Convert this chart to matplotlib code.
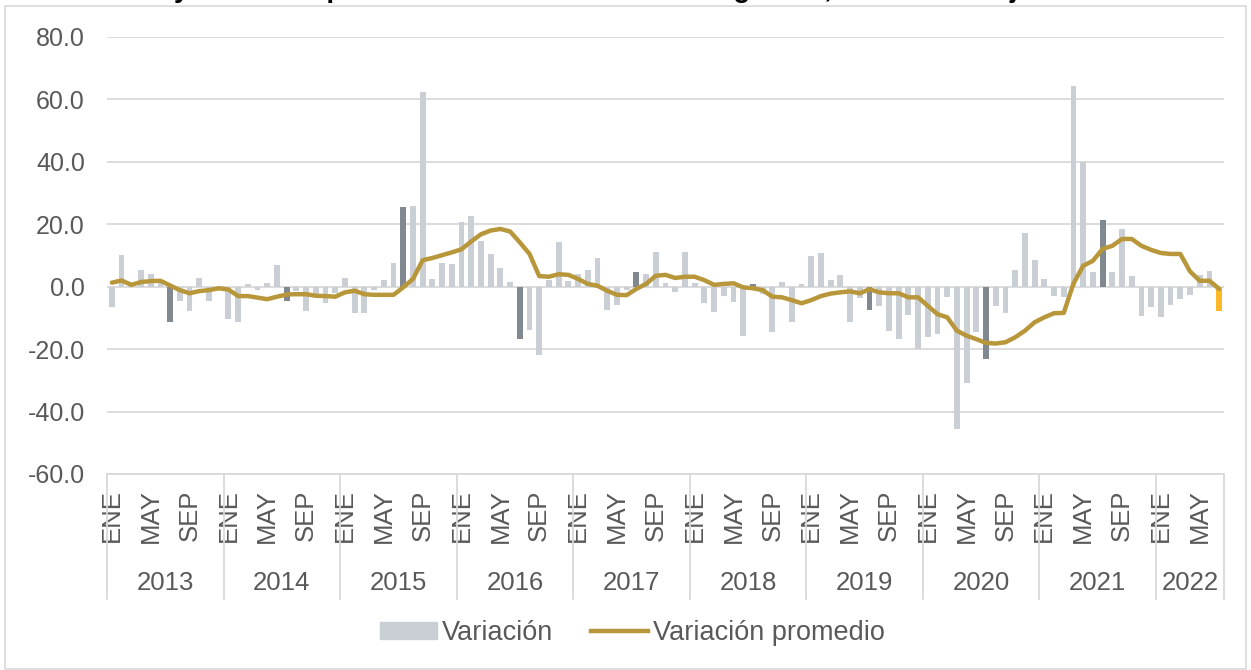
import matplotlib.pyplot as plt
import matplotlib.ticker as ticker
import matplotlib.transforms as transforms
from matplotlib.patches import Patch, Rectangle
from matplotlib.lines import Line2D

plt.rcParams['font.family'] = ['Liberation Sans', 'DejaVu Sans']

years = ['2013', '2014', '2015', '2016', '2017', '2018', '2019', '2020', '2021', '2022']
months = ['ENE', 'FEB', 'MAR', 'ABR', 'MAY', 'JUN', 'JUL', 'AGO', 'SEP', 'OCT', 'NOV', 'DIC']

# monthly variation (%), Jan 2013 - Jul 2022
variacion = [
    -6.5, 10.3, 1.0, 5.2, 4.1, 1.5, -11.2, -4.5, -7.7, 2.8, -4.5, -0.5,
    -10.5, -11.2, 1.0, -1.1, 1.2, 7.0, -4.6, -1.5, -7.7, -2.5, -5.1, -2.0,
    2.9, -8.5, -8.5, -1.0, 2.0, 7.7, 25.6, 26.0, 62.5, 2.6, 7.7, 7.4,
    20.8, 22.6, 14.5, 10.6, 6.0, 1.4, -16.6, -13.9, -21.9, 2.2, 14.4, 1.9,
    4.1, 5.2, 9.2, -7.5, -5.9, -1.0, 4.8, 4.2, 11.2, 1.2, -1.8, 11.1,
    1.1, -5.3, -8.0, -3.0, -4.8, -15.7, 0.9, -2.4, -14.4, 1.5, -11.2, 0.9,
    9.7, 10.8, 2.1, 3.7, -11.4, -3.6, -7.3, -6.3, -14.1, -16.6, -9.0, -20.0,
    -16.2, -15.2, -3.4, -45.6, -30.7, -14.6, -23.0, -6.3, -8.5, 5.3, 17.1, 8.7,
    2.4, -2.9, -3.2, 64.4, 40.0, 4.6, 21.5, 4.6, 18.5, 3.5, -9.3, -6.6,
    -9.8, -5.8, -4.0, -2.7, 3.8, 5.1, -7.9,
]

variacion_promedio = [
    1.3, 2.0, 0.6, 1.5, 1.8, 1.9, 0.4, -1.1, -2.1, -1.4, -1.1, -0.5,
    -0.9, -3.0, -3.0, -3.5, -4.0, -3.2, -2.5, -2.4, -2.4, -2.9, -3.0, -3.2,
    -1.8, -1.3, -2.4, -2.6, -2.6, -2.6, -0.2, 2.5, 8.5, 9.2, 10.1, 11.0,
    12.0, 14.5, 16.8, 18.0, 18.5, 17.7, 14.2, 10.5, 3.4, 3.2, 4.0, 3.8,
    2.5, 0.9, 0.3, -1.3, -2.6, -2.7, -0.7, 0.9, 3.5, 3.8, 2.8, 3.2,
    3.2, 2.1, 0.6, 0.9, 1.1, -0.2, -0.5, -1.1, -3.2, -3.4, -4.3, -5.3,
    -4.3, -3.0, -2.2, -1.8, -1.5, -2.1, -0.8, -1.8, -2.1, -2.1, -3.4, -3.4,
    -6.1, -8.8, -9.8, -14.1, -15.7, -16.8, -18.0, -18.2, -17.8, -16.2, -14.1, -11.4,
    -9.8, -8.5, -8.4, 1.0, 6.7, 8.3, 12.1, 13.1, 15.3, 15.3, 13.1, 11.8,
    10.8, 10.5, 10.5, 4.9, 1.9, 1.9, -0.7,
]

n = len(variacion)
x = list(range(n))

# july bars darker, last month highlighted
colores = []
for i in x:
    if i == n - 1:
        colores.append('#FDB827')
    elif i % 12 == 6:
        colores.append('#7F898F')
    else:
        colores.append('#C9CFD5')

gris = '#595959'
grid = '#D9D9D9'

fig = plt.figure(figsize=(12.51, 6.70), dpi=100)
ax = fig.add_axes([107 / 1251, 1 - 474 / 670, (1224 - 107) / 1251, (474 - 37) / 670])

ax.bar(x, variacion, width=0.6, color=colores, zorder=2)
ax.plot(x, variacion_promedio, color='#B8963A', lw=3.2, solid_capstyle='round', zorder=3)

ax.set_xlim(-0.5, n - 0.5)
ax.set_ylim(-60, 80)
ax.yaxis.set_major_locator(ticker.MultipleLocator(20))
ax.yaxis.set_major_formatter(ticker.FuncFormatter(lambda v, p: f'{v:.1f}'))
ax.grid(axis='y', color=grid, lw=1.3, zorder=0)
ax.set_axisbelow(True)

for s in ['left', 'right', 'top']:
    ax.spines[s].set_visible(False)
ax.spines['bottom'].set_color(grid)
ax.spines['bottom'].set_linewidth(1.3)

# month labels: ENE, MAY, SEP
pos = [i for i in x if i % 4 == 0]
ax.set_xticks(pos)
ax.set_xticklabels([months[i % 12] for i in pos], rotation=90, fontsize=18.5, color=gris)
ax.tick_params(axis='x', length=0, pad=11)
ax.tick_params(axis='y', length=0, pad=16, labelsize=18, labelcolor=gris)

# year level of the axis
trans = transforms.blended_transform_factory(ax.transData, ax.transAxes)
bounds = [12 * k - 0.5 for k in range(len(years))] + [n - 0.5]
for b in bounds:
    ax.plot([b, b], [0, -0.285], color=grid, lw=1.3, transform=trans, clip_on=False)
for k, yr in enumerate(years):
    a = bounds[k]
    b = bounds[k + 1]
    ax.text((a + b) / 2, -0.25, yr, transform=trans, ha='center', va='center',
            fontsize=18.5, color=gris)

# title cut off at top of picture
fig.text(-0.011, 1.004, 'Variación real y variación promedio móvil anual de los ingresos, enero 2013 - julio 2022',
         fontsize=20, fontweight='bold', ha='left', va='baseline', color='black')

handles = [Patch(color='#C9CFD5'), Line2D([0], [0], color='#B8963A', lw=3.2)]
fig.legend(handles, ['Variación', 'Variación promedio'], loc='center',
           bbox_to_anchor=(0.5056, 1 - 633 / 670), ncol=2, frameon=False,
           fontsize=19.5, labelcolor=gris, handlelength=2.1, handleheight=0.6,
           handletextpad=0.2, columnspacing=1.4)

fig.patches.append(Rectangle((5 / 1251, 1 / 670), 1241 / 1251, 663 / 670, transform=fig.transFigure,
                             fill=False, ec=grid, lw=1.2))

fig.savefig('out.png', dpi=100)
